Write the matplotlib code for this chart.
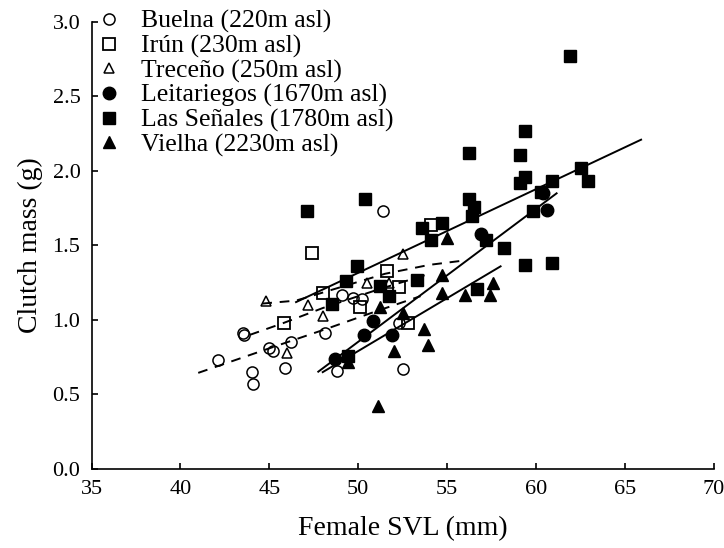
import matplotlib
matplotlib.use("Agg")
import matplotlib.pyplot as plt

plt.rcParams['font.family'] = ['Liberation Serif', 'DejaVu Serif']

# clutch mass (g) against female SVL (mm)
buelna_x = [42.1, 43.5, 43.6, 44.0, 44.1, 45.0, 45.2, 45.9, 46.2, 48.1, 48.8, 49.1, 49.7, 50.2, 51.4, 52.3, 52.5]
buelna_y = [0.73, 0.91, 0.90, 0.65, 0.57, 0.81, 0.79, 0.68, 0.85, 0.91, 0.66, 1.17, 1.15, 1.14, 1.73, 0.98, 0.67]

irun_x = [45.8, 47.4, 48.0, 50.1, 51.6, 52.3, 52.8, 54.1]
irun_y = [0.98, 1.45, 1.18, 1.09, 1.33, 1.22, 0.98, 1.64]

treceno_x = [44.8, 46.0, 47.2, 48.0, 50.5, 51.7, 52.5]
treceno_y = [1.13, 0.78, 1.10, 1.03, 1.25, 1.25, 1.44]

leitariegos_x = [48.7, 50.3, 50.8, 51.9, 56.9, 60.4, 60.6]
leitariegos_y = [0.74, 0.90, 0.99, 0.90, 1.58, 1.85, 1.74]

senales_x = [47.1, 48.5, 49.3, 49.4, 49.9, 50.4, 51.2, 51.7, 53.3, 53.6, 54.1, 54.7, 56.2, 56.2,
             56.4, 56.5, 56.7, 57.2, 58.2, 59.1, 59.1, 59.4, 59.4, 59.4, 59.8, 60.3, 60.9, 60.9,
             61.9, 62.5, 62.9]
senales_y = [1.73, 1.11, 1.26, 0.76, 1.36, 1.81, 1.23, 1.16, 1.27, 1.62, 1.54, 1.65, 2.12, 1.81,
             1.70, 1.76, 1.21, 1.54, 1.48, 2.11, 1.92, 1.96, 2.27, 1.37, 1.73, 1.86, 1.93, 1.38,
             2.77, 2.02, 1.93]

vielha_x = [49.4, 51.1, 51.2, 52.0, 52.5, 53.7, 53.9, 54.7, 54.7, 55.0, 56.0, 57.4, 57.6]
vielha_y = [0.72, 0.42, 1.09, 0.79, 1.05, 0.94, 0.83, 1.30, 1.18, 1.55, 1.17, 1.17, 1.25]

# fitted lines as drawn in the figure
buelna_fit_x = [41.0, 45.0, 48.2, 50.8, 53.5]
buelna_fit_y = [0.645, 0.81, 0.94, 1.05, 1.16]
irun_fit_x = [43.9, 45.8, 48.0, 51.0, 54.0]
irun_fit_y = [0.90, 0.98, 1.08, 1.20, 1.31]
treceno_fit_x = [44.6, 46.5, 49.0, 51.5, 54.0, 56.0]
treceno_fit_y = [1.11, 1.13, 1.22, 1.31, 1.37, 1.40]
leit_fit_x = [47.75, 61.15]
leit_fit_y = [0.653, 1.85]
senales_fit_x = [46.5, 65.9]
senales_fit_y = [1.12, 2.21]
vielha_fit_x = [48.0, 58.0]
vielha_fit_y = [0.65, 1.36]

labels = ["Buelna (220m asl)", "Irún (230m asl)", "Treceño (250m asl)",
          "Leitariegos (1670m asl)", "Las Señales (1780m asl)", "Vielha (2230m asl)"]

fig = plt.figure(figsize=(7.24, 5.48), dpi=100)
ax = fig.add_axes([0.1264, 0.1442, 0.8598, 0.8157])

for fx, fy in [(buelna_fit_x, buelna_fit_y), (irun_fit_x, irun_fit_y), (treceno_fit_x, treceno_fit_y)]:
    ax.plot(fx, fy, color='black', lw=1.4, ls=(0, (5, 4)), zorder=2)
for fx, fy in [(leit_fit_x, leit_fit_y), (senales_fit_x, senales_fit_y), (vielha_fit_x, vielha_fit_y)]:
    ax.plot(fx, fy, color='black', lw=1.4, zorder=2)

ax.plot(buelna_x, buelna_y, 'o', ms=8, mfc='none', mec='black', mew=1.1, label=labels[0], zorder=3)
ax.plot(irun_x, irun_y, 's', ms=8, mfc='none', mec='black', mew=1.3, label=labels[1], zorder=3)
ax.plot(treceno_x, treceno_y, '^', ms=7.5, mfc='none', mec='black', mew=1.1, label=labels[2], zorder=3)
ax.plot(leitariegos_x, leitariegos_y, 'o', ms=9, color='black', label=labels[3], zorder=3)
ax.plot(senales_x, senales_y, 's', ms=9, color='black', label=labels[4], zorder=3)
ax.plot(vielha_x, vielha_y, '^', ms=8, color='black', label=labels[5], zorder=3)

ax.set_xlim(35, 70)
ax.set_ylim(0, 3.0)
ax.set_xticks(range(35, 71, 5))
ax.set_yticks([0, 0.5, 1.0, 1.5, 2.0, 2.5, 3.0])
ax.set_yticklabels(["%.1f" % v for v in [0, 0.5, 1.0, 1.5, 2.0, 2.5, 3.0]])
for s in ['top', 'right']:
    ax.spines[s].set_visible(False)
for s in ['left', 'bottom']:
    ax.spines[s].set_linewidth(1.2)
ax.tick_params(direction='in', length=4, width=1.2, labelsize=16, pad=8)

ax.set_xlabel("Female SVL (mm)", fontsize=20, labelpad=12)
ax.set_ylabel("Clutch mass (g)", fontsize=20, labelpad=7)

ax.legend(loc='upper left', bbox_to_anchor=(0.0116, 1.027), frameon=False, fontsize=18.5,
          borderpad=0, borderaxespad=0, handlelength=0.8, handletextpad=0.85,
          labelspacing=0.05, numpoints=1)

fig.savefig("out.png", dpi=100)
